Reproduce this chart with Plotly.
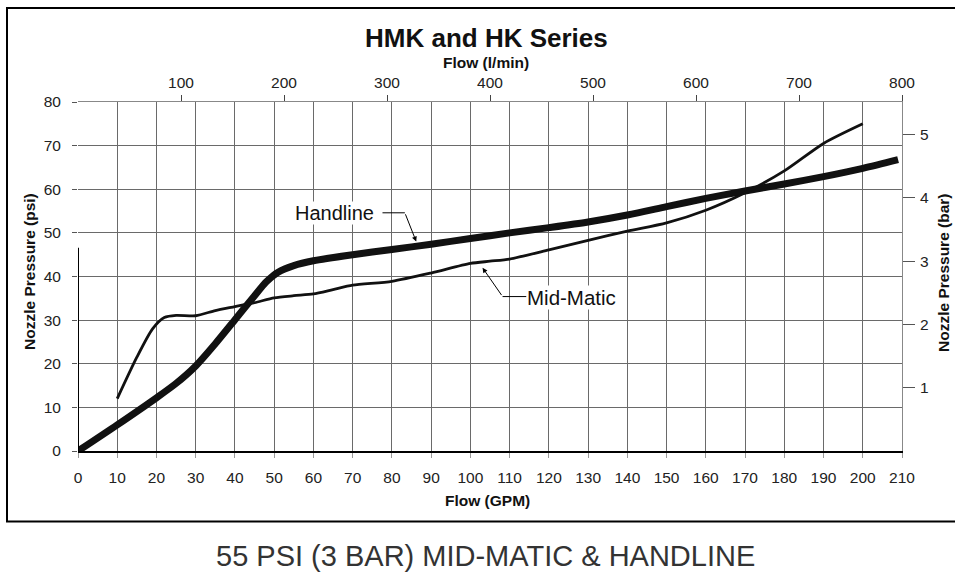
import plotly.graph_objects as go

# ---- data ----
handline_gpm = [0, 10, 20, 25, 30, 35, 40, 45, 48, 51, 55, 60, 70, 80, 90, 100,
                110, 120, 130, 140, 150, 160, 170, 180, 190, 200, 209]
handline_psi = [0, 6, 12.2, 15.5, 19.5, 24.6, 30.1, 35.6, 38.8, 41.0, 42.5, 43.6,
                45, 46.2, 47.4, 48.7, 50, 51.2, 52.5, 54.1, 56, 57.9, 59.6, 61.2,
                62.9, 64.8, 66.8]

midmatic_gpm = [10, 15, 19, 22, 25, 30, 35, 40, 45, 50, 55, 60, 65, 70, 80,
                90, 100, 105, 110, 120, 130, 140, 150, 160, 170, 180, 190, 200]
midmatic_psi = [12, 21.5, 28, 30.6, 31.1, 31, 32.2, 33.1, 34, 35.1, 35.6,
                36, 37, 38, 38.9, 40.8, 43, 43.5, 44, 46.1, 48.3, 50.4, 52.3, 55.2,
                59.2, 64.2, 70.5, 75]

gpm_ticks = list(range(0, 211, 10))
psi_ticks = list(range(0, 81, 10))
lmin_ticks = [100, 200, 300, 400, 500, 600, 700, 800]
bar_ticks = [1, 2, 3, 4, 5]

LMIN_PER_GPM = 3.78541
PSI_PER_BAR = 14.5038

FONT = "Liberation Sans, Arial, sans-serif"
GRID = "#6a6a6a"

# layout geometry (pixels)
W, H = 955, 575
ML, MR, MT, MB = 78, 53, 102, 124
PW, PH = W - ML - MR, H - MT - MB


def px(x):
    return (x - ML) / PW


def py(y):
    return (H - MB - y) / PH


fig = go.Figure()

fig.add_trace(go.Scatter(
    x=handline_gpm, y=handline_psi, mode="lines", name="Handline",
    line=dict(color="#111111", width=7, shape="spline", smoothing=0.8),
    hoverinfo="skip", showlegend=False))

fig.add_trace(go.Scatter(
    x=midmatic_gpm, y=midmatic_psi, mode="lines", name="Mid-Matic",
    line=dict(color="#111111", width=2.8, shape="spline", smoothing=0.7),
    hoverinfo="skip", showlegend=False))

# invisible trace to activate the secondary (l/min, bar) axes
fig.add_trace(go.Scatter(
    x=[g * LMIN_PER_GPM for g in handline_gpm],
    y=[p / PSI_PER_BAR for p in handline_psi],
    xaxis="x2", yaxis="y2", mode="lines", opacity=0,
    hoverinfo="skip", showlegend=False))

tickfont = dict(family=FONT, size=15.5, color="#222")

fig.update_layout(
    width=W, height=H,
    margin=dict(l=ML, r=MR, t=MT, b=MB),
    paper_bgcolor="white", plot_bgcolor="white",
    font=dict(family=FONT, color="#111"),
    xaxis=dict(range=[0, 210], tickvals=gpm_ticks, showgrid=True, gridcolor=GRID,
               gridwidth=1, zeroline=False, showline=True, linecolor="black",
               linewidth=2, ticks="outside", ticklen=5, tickcolor="#999",
               tickfont=tickfont, ticklabelstandoff=6),
    yaxis=dict(range=[0, 80], tickvals=psi_ticks, showgrid=True, gridcolor=GRID,
               gridwidth=1, zeroline=False, showline=False, ticks="outside",
               ticklen=5, tickcolor="#555", tickfont=tickfont, ticklabelstandoff=8),
    xaxis2=dict(range=[0, 800], tickvals=lmin_ticks, overlaying="x", side="top",
                anchor="y", showgrid=False, zeroline=False, showline=True,
                linecolor="#888", linewidth=1, ticks="outside", ticklen=6,
                tickcolor="#444", tickfont=tickfont, ticklabelstandoff=1),
    yaxis2=dict(range=[0, 80 / PSI_PER_BAR], tickvals=bar_ticks, overlaying="y",
                side="right", anchor="x", showgrid=False, zeroline=False,
                showline=True, linecolor="#888", linewidth=1, ticks="outside",
                ticklen=12, tickcolor="#555", tickfont=tickfont,
                ticklabelstandoff=2),
)

shapes = [
    # outer frame
    dict(type="rect", xref="paper", yref="paper", x0=px(7), x1=px(962),
         y0=py(521.5), y1=py(8), line=dict(color="black", width=2)),
    # partial dark left axis segment
    dict(type="line", xref="x", yref="y", x0=0, x1=0, y0=0, y1=46.6,
         line=dict(color="black", width=2)),
    # leader lines
    dict(type="line", xref="x", yref="y", x0=77.6, x1=83.3, y0=54.6, y1=54.6,
         line=dict(color="black", width=1)),
    dict(type="line", xref="x", yref="y", x0=108.2, x1=114.3, y0=35.4, y1=35.4,
         line=dict(color="black", width=1)),
]
fig.update_layout(shapes=shapes)

ann = [
    dict(text="<b>HMK and HK Series</b>", x=px(486), y=py(38), xref="paper",
         yref="paper", showarrow=False, font=dict(size=26, family=FONT, color="#111"),
         xanchor="center", yanchor="middle"),
    dict(text="<b>Flow (l/min)</b>", x=px(486), y=py(62), xref="paper",
         yref="paper", showarrow=False, font=dict(size=15.5, family=FONT, color="#111"),
         xanchor="center", yanchor="middle"),
    dict(text="<b>Flow (GPM)</b>", x=px(487), y=py(500), xref="paper",
         yref="paper", showarrow=False, font=dict(size=15.5, family=FONT, color="#111"),
         xanchor="center", yanchor="middle"),
    dict(text="<b>Nozzle Pressure (psi)</b>", x=px(29), y=py(272), xref="paper",
         yref="paper", showarrow=False, textangle=-90,
         font=dict(size=15.5, family=FONT, color="#111"),
         xanchor="center", yanchor="middle"),
    dict(text="<b>Nozzle Pressure (bar)</b>", x=px(943), y=py(272), xref="paper",
         yref="paper", showarrow=False, textangle=-90,
         font=dict(size=15.5, family=FONT, color="#111"),
         xanchor="center", yanchor="middle"),
    dict(text="55 PSI (3 BAR) MID-MATIC &amp; HANDLINE", x=px(485), y=py(556),
         xref="paper", yref="paper", showarrow=False,
         font=dict(size=29, family=FONT, color="#333"),
         xanchor="center", yanchor="middle"),
    # curve labels
    dict(text="Handline", x=65.4, y=54.6, xref="x", yref="y", showarrow=False,
         font=dict(size=20, family=FONT, color="#111"), bgcolor="white",
         borderpad=0, xanchor="center", yanchor="middle"),
    dict(text="Mid-Matic", x=125.8, y=35.1, xref="x", yref="y", showarrow=False,
         font=dict(size=20.5, family=FONT, color="#111"), bgcolor="white",
         borderpad=0, xanchor="center", yanchor="middle"),
    # arrows
    dict(text="", x=86.2, y=48.0, ax=83.3, ay=54.6, xref="x", yref="y",
         axref="x", ayref="y", showarrow=True, arrowhead=2, arrowsize=1,
         arrowwidth=1, arrowcolor="black", standoff=0),
    dict(text="", x=103.1, y=42.0, ax=108.2, ay=35.4, xref="x", yref="y",
         axref="x", ayref="y", showarrow=True, arrowhead=2, arrowsize=1,
         arrowwidth=1, arrowcolor="black", standoff=0),
]
fig.update_layout(annotations=ann)

fig.write_html(
    "out.html",
    config={"displayModeBar": False},
    post_script="document.body.style.margin='0px';document.body.style.overflow='hidden';",
)
